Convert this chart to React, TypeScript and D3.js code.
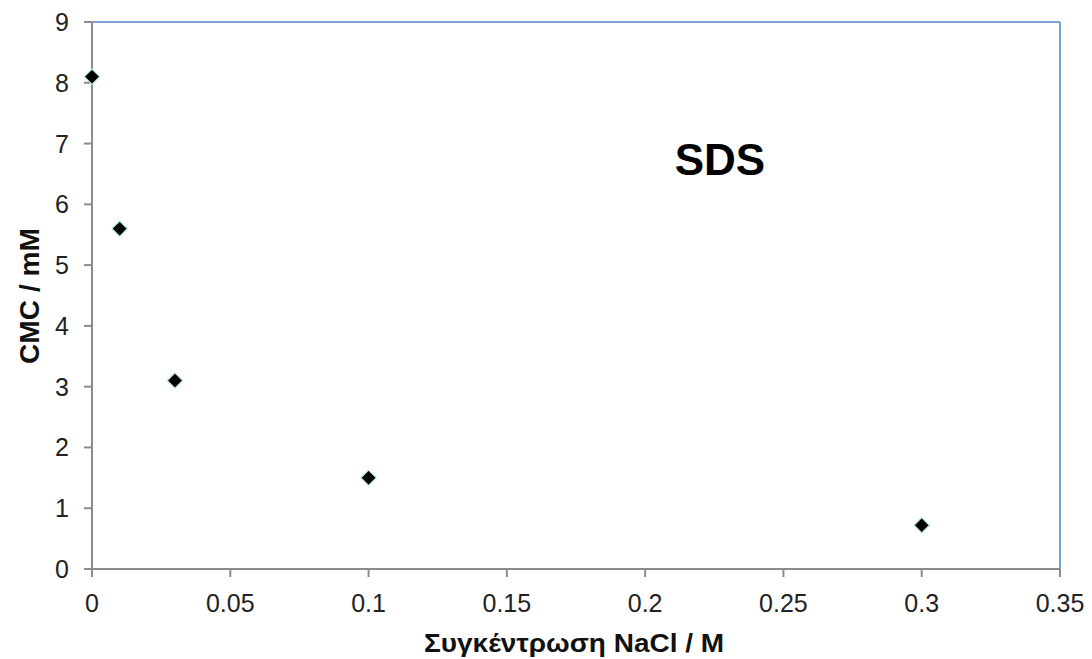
import * as d3 from 'd3';

const nacl = [0, 0.01, 0.03, 0.1, 0.3];
const cmc = [8.1, 5.6, 3.1, 1.5, 0.72];
const xTicks = [0, 0.05, 0.1, 0.15, 0.2, 0.25, 0.3, 0.35];
const yTicks = [0, 1, 2, 3, 4, 5, 6, 7, 8, 9];

const W = 1092;
const H = 659;
const m = { left: 92, right: 32, top: 22, bottom: 90 };

const App = () => {
  const x = d3.scaleLinear().domain([0, 0.35]).range([m.left, W - m.right]);
  const y = d3.scaleLinear().domain([0, 9]).range([H - m.bottom, m.top]);
  const font = 'Liberation Sans, Arial, sans-serif';
  const diamond = d3.symbol().type(d3.symbolDiamond2).size(150)() as string;

  return (
    <svg width={W} height={H} style={{ position: 'absolute', left: 0, top: 0 }} fontFamily={font}>
      <rect width={W} height={H} fill="#fff" />
      {/* frame: top/right blue, left/bottom gray */}
      <line x1={x(0)} x2={x(0.35)} y1={y(9)} y2={y(9)} stroke="#7ea1d3" strokeWidth={2} />
      <line x1={x(0.35)} x2={x(0.35)} y1={y(9)} y2={y(0)} stroke="#7ea1d3" strokeWidth={2} />
      <line x1={x(0)} x2={x(0.35)} y1={y(0)} y2={y(0)} stroke="#8c8c8c" strokeWidth={2} />
      <line x1={x(0)} x2={x(0)} y1={y(9)} y2={y(0)} stroke="#8c8c8c" strokeWidth={2} />
      {xTicks.map((t) => (
        <g key={'x' + t}>
          <line x1={x(t)} x2={x(t)} y1={y(0)} y2={y(0) + 8} stroke="#8c8c8c" strokeWidth={2} />
          <text x={x(t)} y={y(0) + 43} textAnchor="middle" fontSize={25} fill="#222">
            {t}
          </text>
        </g>
      ))}
      {yTicks.map((t) => (
        <g key={'y' + t}>
          <line x1={x(0) - 8} x2={x(0)} y1={y(t)} y2={y(t)} stroke="#8c8c8c" strokeWidth={2} />
          <text x={69} y={y(t) + 9} textAnchor="end" fontSize={25} fill="#222">
            {t}
          </text>
        </g>
      ))}
      {nacl.map((v, i) => (
        <path
          key={'p' + i}
          d={diamond}
          transform={`translate(${x(v)},${y(cmc[i])})`}
          fill="#000"
          stroke="#b5e3e3"
          strokeWidth={1.2}
        />
      ))}
      <text x={720} y={175} textAnchor="middle" fontSize={44} fontWeight="bold" fill="#000">
        SDS
      </text>
      <text
        x={574}
        y={652}
        textAnchor="middle"
        fontSize={26}
        fontWeight="bold"
        fill="#111"
        textLength={300}
        lengthAdjust="spacingAndGlyphs"
      >
        Συγκέντρωση NaCl / M
      </text>
      <text
        transform={`translate(39,296) rotate(-90)`}
        textAnchor="middle"
        fontSize={27}
        fontWeight="bold"
        fill="#111"
        textLength={136}
        lengthAdjust="spacingAndGlyphs"
      >
        CMC / mM
      </text>
    </svg>
  );
};

export default App;
